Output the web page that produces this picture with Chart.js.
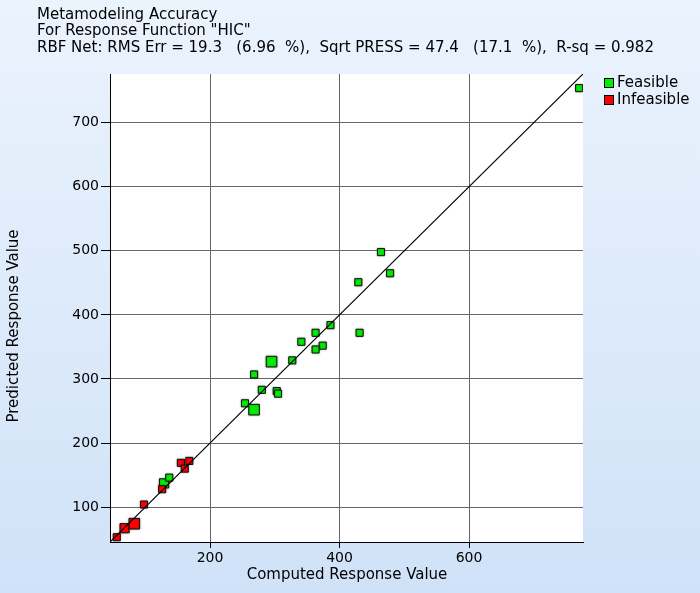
<!DOCTYPE html>
<html>
<head>
<meta charset="utf-8">
<script src="https://cdn.jsdelivr.net/npm/chart.js@4"></script>
<style>
  html, body { margin: 0; padding: 0; }
  canvas { display: block; }
</style>
</head>
<body>
<canvas id="accChart" width="700" height="593"></canvas>
<script>
// values
const titleLines = [
    'Metamodeling Accuracy',
    'For Response Function "HIC"',
    'RBF Net: RMS Err = 19.3   (6.96  %),  Sqrt PRESS = 47.4   (17.1  %),  R-sq = 0.982'
];
const xTitle = 'Computed Response Value';
const yTitle = 'Predicted Response Value';
const seriesNames = ['Feasible', 'Infeasible'];

const feasibleComputed  = [129, 137, 254, 268, 280, 303, 305, 268, 295, 327, 341, 386, 363, 374, 363, 431, 464, 478, 429, 770];
const feasiblePredicted = [137, 146, 262, 252, 283, 281, 277, 307, 327, 329, 358, 384, 372, 352, 346, 372, 498, 465, 451, 754];

const infeasibleComputed  = [56, 68, 83, 98, 126, 155, 161, 168];
const infeasiblePredicted = [53, 67, 74, 104, 128, 169, 160, 172];

const axisMin = 45.5;
const axisMax = 776;
const xTicks = [200, 400, 600];
const yTicks = [100, 200, 300, 400, 500, 600, 700];

// marker sizes (bigger squares in the picture)
const feasibleRadius   = [6.5, 5, 5, 7.5, 5, 5, 5, 5, 7.5, 5, 5, 5, 5, 5, 5, 5, 5, 5, 5, 5];
const infeasibleRadius = [5, 6.5, 7.5, 5, 5, 5, 5, 5];

const GREEN = '#00ee00';
const RED = '#ff0000';
const FONT = '"DejaVu Sans", sans-serif';

function toPoints(xs, ys) {
    return xs.map((x, i) => ({ x: x, y: ys[i] }));
}

const backdrop = {
    id: 'backdrop',
    beforeDraw(chart) {
        const ctx = chart.ctx;
        const g = ctx.createLinearGradient(0, 0, 0, chart.height);
        g.addColorStop(0, '#ebf3fd');
        g.addColorStop(1, '#d0e2f8');
        ctx.save();
        ctx.fillStyle = g;
        ctx.fillRect(0, 0, chart.width, chart.height);
        const a = chart.chartArea;
        ctx.fillStyle = '#ffffff';
        ctx.fillRect(a.left, a.top, a.right - a.left, a.bottom - a.top);
        ctx.restore();
    },
    beforeDatasetDraw(chart, args) {
        if (args.index === 0) return;
        const ctx = chart.ctx;
        ctx.save();
        ctx.shadowColor = 'rgba(0,0,0,0.35)';
        ctx.shadowBlur = 2;
    },
    afterDatasetDraw(chart, args) {
        if (args.index === 0) return;
        chart.ctx.restore();
    },
    afterDraw(chart) {
        const ctx = chart.ctx;
        ctx.save();
        ctx.fillStyle = '#000';
        ctx.textBaseline = 'middle';
        ctx.textAlign = 'left';
        ctx.font = '15px ' + FONT;
        titleLines.forEach((t, i) => ctx.fillText(t, 37, 15 + i * 16.5));

        // legend
        [GREEN, RED].forEach((c, i) => {
            const cy = 83 + i * 17;
            ctx.fillStyle = c;
            ctx.fillRect(604, cy - 5, 10, 10);
            ctx.strokeStyle = '#000';
            ctx.lineWidth = 1;
            ctx.strokeRect(604.5, cy - 4.5, 9, 9);
            ctx.fillStyle = '#000';
            ctx.fillText(seriesNames[i], 617, cy);
        });

        // axis titles
        ctx.textAlign = 'center';
        ctx.fillText(xTitle, 347, 575);
        ctx.translate(14, 326);
        ctx.rotate(-Math.PI / 2);
        ctx.fillText(yTitle, 0, 0);
        ctx.restore();
    }
};

new Chart(document.getElementById('accChart'), {
    type: 'scatter',
    data: {
        datasets: [
            {
                label: 'ideal',
                type: 'line',
                data: [{ x: axisMin, y: axisMin }, { x: axisMax, y: axisMax }],
                borderColor: '#000',
                borderWidth: 1.2,
                pointRadius: 0,
                fill: false
            },
            {
                label: seriesNames[1],
                data: toPoints(infeasibleComputed, infeasiblePredicted),
                pointStyle: 'rect',
                pointRadius: infeasibleRadius,
                backgroundColor: RED,
                borderColor: '#111',
                borderWidth: 1
            },
            {
                label: seriesNames[0],
                data: toPoints(feasibleComputed, feasiblePredicted),
                pointStyle: 'rect',
                pointRadius: feasibleRadius,
                backgroundColor: GREEN,
                borderColor: '#111',
                borderWidth: 1
            }
        ]
    },
    options: {
        responsive: false,
        animation: false,
        layout: { padding: { left: 0, top: 74, right: 117, bottom: 0 } },
        plugins: {
            legend: { display: false },
            tooltip: { enabled: false }
        },
        scales: {
            x: {
                type: 'linear',
                min: axisMin,
                max: axisMax,
                afterBuildTicks: s => { s.ticks = xTicks.map(v => ({ value: v })); },
                afterFit: s => { s.height = 51; },
                grid: { color: '#666', tickColor: '#000', tickLength: 6 },
                border: { color: '#000', width: 1 },
                ticks: { color: '#000', font: { family: FONT, size: 14 }, padding: 2, maxRotation: 0 }
            },
            y: {
                type: 'linear',
                min: axisMin,
                max: axisMax,
                afterBuildTicks: s => { s.ticks = yTicks.map(v => ({ value: v })); },
                afterFit: s => { s.width = 110; },
                grid: { color: '#666', tickColor: '#000', tickLength: 9 },
                border: { color: '#000', width: 1 },
                ticks: { color: '#000', font: { family: FONT, size: 14 }, padding: 2 }
            }
        }
    },
    plugins: [backdrop]
});
</script>
</body>
</html>
